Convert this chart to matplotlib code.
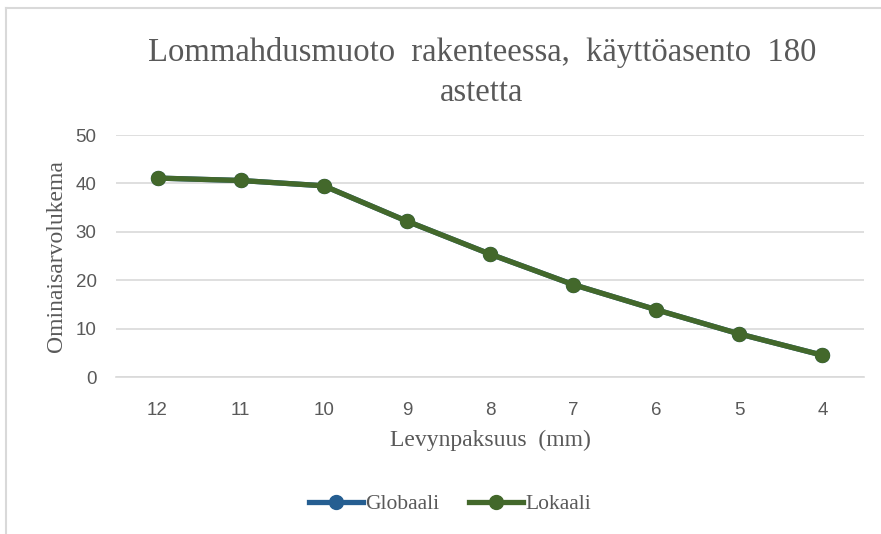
import matplotlib.pyplot as plt
from matplotlib.lines import Line2D

# Data
thickness = ["12", "11", "10", "9", "8", "7", "6", "5", "4"]
globaali = [41.1, 40.6, 39.5, 32.2, 25.4, 19.1, 13.9, 8.9, 4.5]
lokaali = [41.1, 40.6, 39.5, 32.2, 25.4, 19.1, 13.9, 8.9, 4.5]
yticks = [0, 10, 20, 30, 40, 50]

BLUE = "#255E91"
GREEN = "#43682B"
GRAY = "#595959"

fig = plt.figure(figsize=(8.81, 5.34), dpi=100)
ax = fig.add_axes([116 / 881, 1 - 377 / 534, (864 - 116) / 881, (377 - 135) / 534])

x = list(range(len(thickness)))
ax.plot(x, globaali, color=BLUE, lw=3.8, marker="o", ms=10, label="Globaali", zorder=3)
ax.plot(x, lokaali, color=GREEN, lw=3.8, marker="o", ms=10, label="Lokaali", zorder=4)

ax.set_xlim(-0.5, len(thickness) - 0.5)
ax.set_ylim(0, 50)
ax.set_yticks(yticks)
ax.set_xticks(x)
ax.set_xticklabels(thickness)
ax.grid(axis="y", color="#D9D9D9", lw=1.2)
ax.set_axisbelow(True)
for s in ["top", "right", "left"]:
    ax.spines[s].set_visible(False)
ax.spines["bottom"].set_color("#D9D9D9")
ax.spines["bottom"].set_linewidth(1.2)
ax.tick_params(length=0, labelsize=13.5, labelcolor=GRAY)
for lbl in ax.get_xticklabels() + ax.get_yticklabels():
    lbl.set_family("Liberation Sans")
ax.tick_params(axis="x", pad=18)
ax.tick_params(axis="y", pad=14)

ax.set_xlabel("Levynpaksuus  (mm)", family="Liberation Serif", fontsize=17, color=GRAY, labelpad=8)
ax.set_ylabel("Ominaisarvolukema", family="Liberation Serif", fontsize=17, color=GRAY, labelpad=6)

fig.text(0.547, 1 - 52 / 534, "Lommahdusmuoto  rakenteessa,  käyttöasento  180",
         family="Liberation Serif", fontsize=23.5, color=GRAY, ha="center", va="center")
fig.text(0.547, 1 - 93 / 534, "astetta",
         family="Liberation Serif", fontsize=23.5, color=GRAY, ha="center", va="center")

handles = [Line2D([], [], color=BLUE, lw=3.8, marker="o", ms=10),
           Line2D([], [], color=GREEN, lw=3.8, marker="o", ms=10)]
fig.legend(handles, ["Globaali", "Lokaali"], loc="center", bbox_to_anchor=(0.511, 1 - 504 / 534),
           ncol=2, frameon=False, handlelength=2.5, handletextpad=0.1, columnspacing=1.4,
           prop={"family": "Liberation Serif", "size": 15.5}, labelcolor=GRAY)

# chart frame (only top and left edges visible)
fig.add_artist(Line2D([6 / 881, 6 / 881], [0, 1 - 8 / 534], transform=fig.transFigure, color="#D9D9D9", lw=1.5))
fig.add_artist(Line2D([6 / 881, 1], [1 - 8 / 534, 1 - 8 / 534], transform=fig.transFigure, color="#D9D9D9", lw=1.5))

fig.savefig("out.png", dpi=100)
